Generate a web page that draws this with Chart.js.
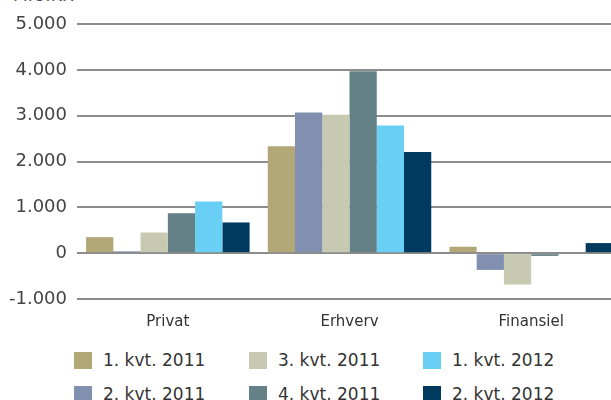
<!DOCTYPE html>
<html>
<head>
<meta charset="utf-8">
<script src="https://cdn.jsdelivr.net/npm/chart.js@4.4.0/dist/chart.umd.min.js"></script>
<style>
    html, body { margin: 0; padding: 0; background: #fff; overflow: hidden; width: 611px; height: 400px; }
    #wrap { position: absolute; left: 0; top: 0; width: 624px; height: 340px; }
    #enhed { position: absolute; left: 13px; top: -15px; font: 17px 'DejaVu Sans'; color: #555; }
    .leg { position: absolute; display: flex; align-items: center; font: 17px 'DejaVu Sans'; color: #333; white-space: nowrap; }
    .leg span.box { display: inline-block; width: 18px; height: 17px; margin-right: 11px; }
</style>
</head>
<body>
<div id="enhed">MIO.KR</div>
<div id="wrap"><canvas id="chartUdlan"></canvas></div>
<div id="legende"></div>
<script>
const kategorier = ['Privat', 'Erhverv', 'Finansiel'];
const serier = ['1. kvt. 2011', '2. kvt. 2011', '3. kvt. 2011', '4. kvt. 2011', '1. kvt. 2012', '2. kvt. 2012'];
const farver = ['#b2a777', '#8190b0', '#c7cab0', '#648187', '#6acff5', '#003b5f'];

const kvt1_2011 = [350, 2335, 140];
const kvt2_2011 = [40, 3070, -365];
const kvt3_2011 = [450, 3020, -685];
const kvt4_2011 = [870, 3970, -60];
const kvt1_2012 = [1130, 2785, -20];
const kvt2_2012 = [670, 2205, 220];
const vaerdier = [kvt1_2011, kvt2_2011, kvt3_2011, kvt4_2011, kvt1_2012, kvt2_2012];

const yTicks = [-1000, 0, 1000, 2000, 3000, 4000, 5000];

const ctx = document.getElementById('chartUdlan');
const chartUdlan = new Chart(ctx, {
    type: 'bar',
    data: {
        labels: kategorier,
        datasets: serier.map(function (navn, i) {
            return {
                label: navn,
                backgroundColor: farver[i],
                data: vaerdier[i],
                barPercentage: 1.0,
                categoryPercentage: 0.9
            };
        })
    },
    options: {
        responsive: true,
        maintainAspectRatio: false,
        animation: false,
        layout: { padding: { top: 24, right: 2, left: 0, bottom: 0 } },
        plugins: {
            legend: { display: false },
            tooltip: { enabled: false }
        },
        scales: {
            x: {
                grid: { display: false },
                border: { display: false },
                ticks: {
                    color: '#333',
                    padding: 6,
                    font: { family: 'DejaVu Sans', size: 15 }
                },
                afterFit: function (s) { s.height = 41; }
            },
            y: {
                min: yTicks[0],
                max: yTicks[yTicks.length - 1],
                afterBuildTicks: function (s) {
                    s.ticks = yTicks.map(function (v) { return { value: v }; });
                },
                grid: { color: '#8c8c8c', lineWidth: 2, drawTicks: false },
                border: { display: false },
                ticks: {
                    color: '#444',
                    padding: 10,
                    font: { family: 'DejaVu Sans', size: 18 },
                    callback: function (v) {
                        return v.toLocaleString('da-DK').replace(/−/g, '-');
                    }
                },
                afterFit: function (s) {
                    s.width = 77;
                    s.paddingTop = 0;
                    s.paddingBottom = 0;
                }
            }
        }
    }
});

// legende i kolonner (som i originalen)
const legende = document.getElementById('legende');
const kolX = [74, 249, 423];
const raekkeY = [350, 384];
serier.forEach(function (navn, i) {
    const el = document.createElement('div');
    el.className = 'leg';
    el.style.left = kolX[Math.floor(i / 2)] + 'px';
    el.style.top = raekkeY[i % 2] + 'px';
    el.innerHTML = '<span class="box" style="background:' + farver[i] + '"></span>' + navn;
    legende.appendChild(el);
});
</script>
</body>
</html>
